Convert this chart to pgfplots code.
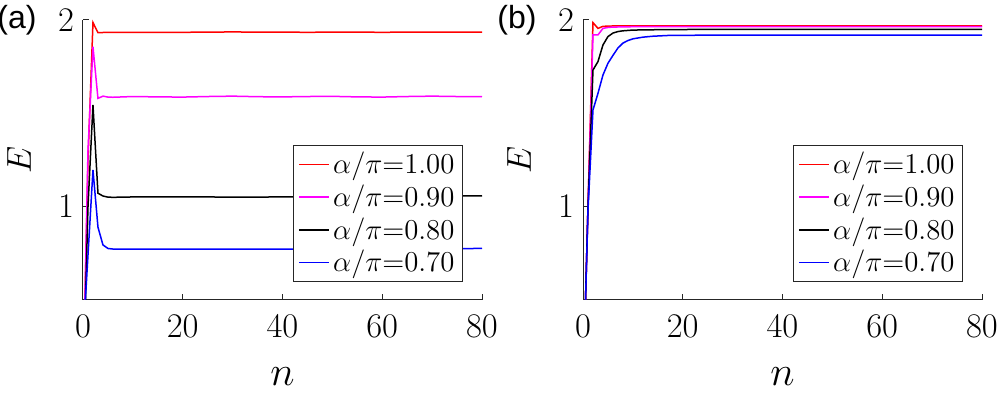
\documentclass[border=0pt]{standalone}
\usepackage{fontspec}
\usepackage{pgfplots}
\pgfplotsset{compat=1.18}
\newfontfamily\hel{Liberation Sans}

\definecolor{axgray}{rgb}{0.15,0.15,0.15}
\definecolor{mag}{rgb}{1,0,1}

\pgfplotsset{
  panel/.style={
    width=199.5pt, height=140pt, scale only axis,
    xmin=0, xmax=80, ymin=0.5, ymax=2,
    xtick={0,20,40,60,80}, ytick={1,2},
    axis lines*=left,
    axis line style={axgray, line width=0.5pt},
    tick style={axgray, line width=0.5pt},
    tick align=inside, major tick length=3pt,
    tick label style={font=\fontsize{17.5}{20}\selectfont},
    xticklabel style={yshift=-4pt},
    yticklabel style={xshift=-1pt},
    xlabel={$n$}, ylabel={$E$},
    xlabel style={at={(axis description cs:0.5,0)}, anchor=center, yshift=-38.5pt, font=\fontsize{22}{24}\selectfont},
    ylabel style={at={(axis description cs:0,0.5)}, anchor=center, yshift=32pt, font=\fontsize{19}{22}\selectfont},
    legend style={at={(0.952,0.064)}, anchor=south east, draw=axgray,
      font=\fontsize{15.3}{17}\selectfont, inner xsep=2.5pt, inner ysep=2pt, row sep=1pt,
      nodes={inner sep=1.5pt},
      /tikz/every even column/.append style={column sep=1pt}},
    legend cell align=left,
    legend image code/.code={\draw[##1, line width=0.75pt] (0pt,0pt) -- (15pt,0pt);},
    every axis plot/.append style={line width=0.75pt},
  }
}

\begin{document}
\begin{tikzpicture}
\useasboundingbox (-41.5pt,-49.5pt) rectangle (457pt,150pt);

% (a)
\begin{axis}[panel, name=A]
\addplot[red] coordinates {(0,0) (1,1.25) (2,1.986) (3,1.932) (4,1.933) (5,1.933) (6,1.934) (8,1.934) (10,1.934) (15,1.933) (20,1.934) (25,1.935) (30,1.936) (35,1.935) (40,1.935) (45,1.934) (50,1.935) (55,1.935) (60,1.934) (65,1.935) (70,1.935) (75,1.935) (80,1.935)};
\addplot[mag] coordinates {(0,0) (1,1.3) (2,1.857) (3,1.580) (4,1.592) (5,1.587) (6,1.586) (8,1.588) (10,1.590) (15,1.588) (20,1.587) (25,1.590) (30,1.592) (35,1.589) (40,1.588) (45,1.590) (50,1.591) (55,1.588) (60,1.587) (65,1.590) (70,1.592) (75,1.590) (80,1.589)};
\addplot[black] coordinates {(0,0) (1,1.0) (2,1.545) (3,1.072) (4,1.057) (5,1.051) (6,1.050) (8,1.051) (10,1.052) (15,1.053) (20,1.053) (30,1.051) (40,1.052) (50,1.054) (60,1.056) (70,1.057) (80,1.058)};
\addplot[blue] coordinates {(0,0.28) (1,0.74) (2,1.197) (3,0.890) (4,0.795) (5,0.776) (6,0.773) (8,0.773) (10,0.773) (20,0.773) (30,0.772) (40,0.772) (50,0.773) (60,0.774) (70,0.775) (80,0.776)};
\legend{$\alpha/\pi{=}1.00$, $\alpha/\pi{=}0.90$, $\alpha/\pi{=}0.80$, $\alpha/\pi{=}0.70$}
\end{axis}

% (b)
\begin{axis}[panel, name=B, xshift=250pt]
\addplot[red] coordinates {(0,0) (1,1.0) (2,1.986) (3,1.955) (4,1.966) (5,1.967) (6,1.968) (10,1.968) (20,1.968) (40,1.968) (60,1.968) (80,1.968)};
\addplot[mag] coordinates {(0,0) (1,1.0) (2,1.920) (3,1.920) (4,1.955) (5,1.960) (6,1.962) (10,1.964) (20,1.965) (40,1.965) (60,1.965) (80,1.965)};
\addplot[black] coordinates {(0,0) (1,1.0) (2,1.732) (3,1.777) (4,1.866) (5,1.911) (6,1.930) (7,1.938) (8,1.942) (10,1.946) (15,1.948) (20,1.949) (40,1.950) (60,1.950) (80,1.950)};
\addplot[blue] coordinates {(0,0) (1,0.98) (2,1.518) (3,1.607) (4,1.705) (5,1.768) (6,1.810) (7,1.850) (8,1.876) (9,1.890) (10,1.899) (12,1.908) (14,1.913) (17,1.917) (20,1.918) (30,1.919) (40,1.919) (60,1.919) (80,1.919)};
\legend{$\alpha/\pi{=}1.00$, $\alpha/\pi{=}0.90$, $\alpha/\pi{=}0.80$, $\alpha/\pi{=}0.70$}
\end{axis}

\node[font=\hel\fontsize{16}{18}\selectfont] at ([xshift=-33pt]A.north west) {(a)};
\node[font=\hel\fontsize{16}{18}\selectfont] at ([xshift=-33pt]B.north west) {(b)};
\end{tikzpicture}
\end{document}
